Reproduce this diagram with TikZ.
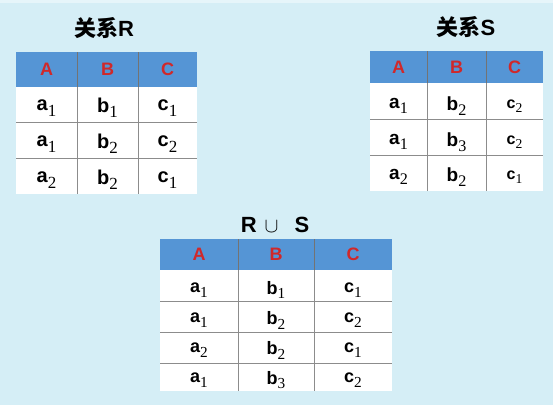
\documentclass[tikz,border=0pt]{standalone}
\usepackage{fontspec}
\usepackage{graphicx}
\setmainfont{Liberation Sans}
\newfontfamily\cjkfont{Noto Sans CJK SC}
\newfontfamily\subfont{Liberation Serif}
\usetikzlibrary{positioning}

\definecolor{bgblue}{HTML}{D5EEF6}
\definecolor{hdrblue}{HTML}{5595D5}
\definecolor{hdrred}{HTML}{D0282A}
\definecolor{gridgray}{HTML}{8C8C8C}

% letter with a serif subscript
\newcommand{\cellsub}[2]{\textbf{#1}\raisebox{-0.27em}{\scalebox{0.85}{\subfont #2}}}

\begin{document}
\begin{tikzpicture}[x=1pt, y=-1pt,
    title/.style={font=\fontsize{22}{26}\selectfont\bfseries},
    hdr/.style={font=\fontsize{18}{20}\selectfont\bfseries, text=hdrred},
    cell/.style={font=\fontsize{20}{24}\selectfont, inner sep=0pt},
    cellS/.style={cell, font=\fontsize{19}{22}\selectfont},
    cellU/.style={cell, font=\fontsize{18}{22}\selectfont},
    grid/.style={gridgray, line width=1pt},
    hdrgrid/.style={black!55, line width=1pt}]
    \useasboundingbox (0,0) rectangle (553,405);
    \fill[bgblue] (0,0) rectangle (553,405);
    \fill[bgblue!60!white] (0,0) rectangle (553,3);

    % Relation R
    \node[title] (titleR) at (104, 28) {{\cjkfont\bfseries 关系}R};
    \fill[white] (16, 52) rectangle (197, 194);
    \fill[hdrblue] (16, 52) rectangle (197, 87);
    \draw[grid] (16, 122) -- (197, 122);
    \draw[grid] (16, 158) -- (197, 158);
    \draw[grid] (77, 87) -- (77, 194);
    \draw[grid] (138, 87) -- (138, 194);
    \draw[hdrgrid] (77, 52) -- (77, 87);
    \draw[hdrgrid] (138, 52) -- (138, 87);
    \node[hdr] (rA) at (46.5, 69.5) {A};
    \node[hdr] (rB) at (107.5, 69.5) {B};
    \node[hdr] (rC) at (167.5, 69.5) {C};
    \node[cell] (r11) at (46.5, 108) {\cellsub{a}{1}};
    \node[cell] (r12) at (107.5, 108) {\cellsub{b}{1}};
    \node[cell] (r13) at (167.5, 108) {\cellsub{c}{1}};
    \node[cell] (r21) at (46.5, 144) {\cellsub{a}{1}};
    \node[cell] (r22) at (107.5, 144) {\cellsub{b}{2}};
    \node[cell] (r23) at (167.5, 144) {\cellsub{c}{2}};
    \node[cell] (r31) at (46.5, 180) {\cellsub{a}{2}};
    \node[cell] (r32) at (107.5, 180) {\cellsub{b}{2}};
    \node[cell] (r33) at (167.5, 180) {\cellsub{c}{1}};

    % Relation S
    \node[title] (titleS) at (466, 27) {{\cjkfont\bfseries 关系}S};
    \fill[white] (370, 51) rectangle (543, 191);
    \fill[hdrblue] (370, 51) rectangle (543, 83);
    \draw[grid] (370, 119) -- (543, 119);
    \draw[grid] (370, 155) -- (543, 155);
    \draw[grid] (427, 83) -- (427, 191);
    \draw[grid] (486, 83) -- (486, 191);
    \draw[hdrgrid] (427, 51) -- (427, 83);
    \draw[hdrgrid] (486, 51) -- (486, 83);
    \node[hdr] (sA) at (398.5, 67) {A};
    \node[hdr] (sB) at (456.5, 67) {B};
    \node[hdr] (sC) at (514.5, 67) {C};
    \node[cellS] (s11) at (398.5, 106) {\cellsub{a}{1}};
    \node[cellS] (s12) at (456.5, 106) {\cellsub{b}{2}};
    \node[cellU, font=\fontsize{16}{20}\selectfont] (s13) at (514.5, 106) {\cellsub{c}{2}};
    \node[cellS] (s21) at (398.5, 142) {\cellsub{a}{1}};
    \node[cellS] (s22) at (456.5, 142) {\cellsub{b}{3}};
    \node[cellU, font=\fontsize{16}{20}\selectfont] (s23) at (514.5, 142) {\cellsub{c}{2}};
    \node[cellS] (s31) at (398.5, 177) {\cellsub{a}{2}};
    \node[cellS] (s32) at (456.5, 177) {\cellsub{b}{2}};
    \node[cellU, font=\fontsize{16}{20}\selectfont] (s33) at (514.5, 177) {\cellsub{c}{1}};

    % Union R and S
    \node[title] (titleU) at (275, 225) {R\hspace{8pt}$\cup$\hspace{16pt}S};
    \fill[white] (160, 239) rectangle (392, 391);
    \fill[hdrblue] (160, 239) rectangle (392, 270);
    \draw[grid] (160, 301) -- (392, 301);
    \draw[grid] (160, 332) -- (392, 332);
    \draw[grid] (160, 363) -- (392, 363);
    \draw[grid] (238, 270) -- (238, 391);
    \draw[grid] (314, 270) -- (314, 391);
    \draw[hdrgrid] (238, 239) -- (238, 270);
    \draw[hdrgrid] (314, 239) -- (314, 270);
    \node[hdr] (uA) at (199, 254.5) {A};
    \node[hdr] (uB) at (276, 254.5) {B};
    \node[hdr] (uC) at (353, 254.5) {C};
    \node[cellU] (u11) at (199, 290) {\cellsub{a}{1}};
    \node[cellU] (u12) at (276, 290) {\cellsub{b}{1}};
    \node[cellU] (u13) at (353, 290) {\cellsub{c}{1}};
    \node[cellU] (u21) at (199, 320.5) {\cellsub{a}{1}};
    \node[cellU] (u22) at (276, 320.5) {\cellsub{b}{2}};
    \node[cellU] (u23) at (353, 320.5) {\cellsub{c}{2}};
    \node[cellU] (u31) at (199, 350.5) {\cellsub{a}{2}};
    \node[cellU] (u32) at (276, 350.5) {\cellsub{b}{2}};
    \node[cellU] (u33) at (353, 350.5) {\cellsub{c}{1}};
    \node[cellU] (u41) at (199, 380) {\cellsub{a}{1}};
    \node[cellU] (u42) at (276, 380) {\cellsub{b}{3}};
    \node[cellU] (u43) at (353, 380) {\cellsub{c}{2}};
\end{tikzpicture}
\end{document}
